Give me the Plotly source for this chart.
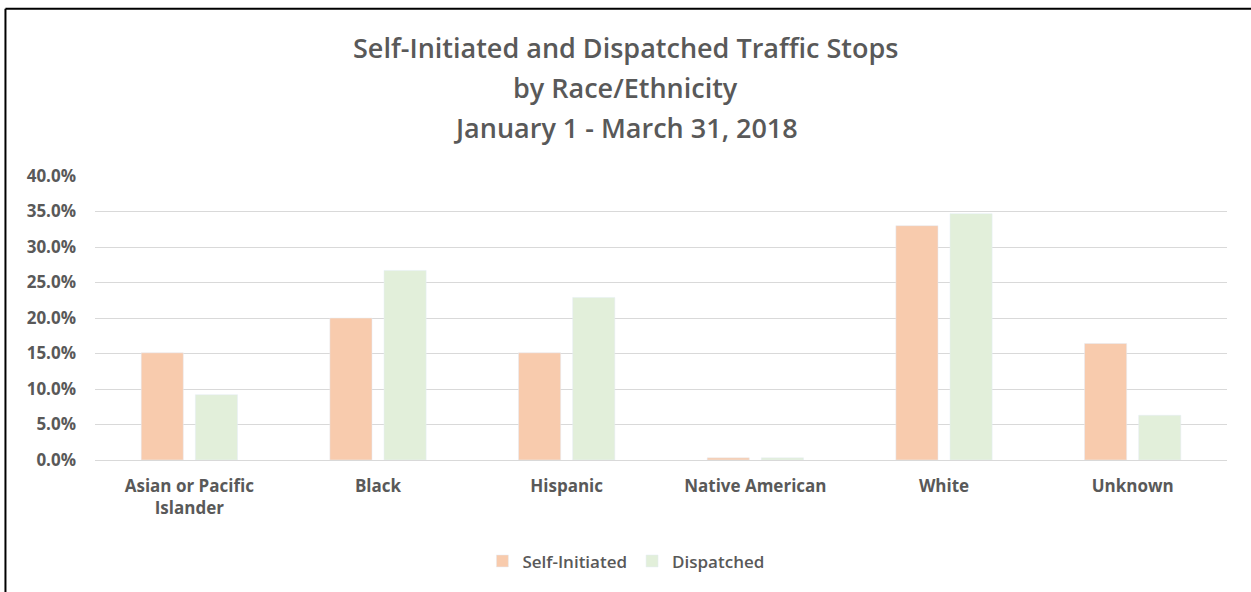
import plotly.graph_objects as go

# values (percent of stops)
categories = ["Asian or Pacific<br>Islander", "Black", "Hispanic",
              "Native American", "White", "Unknown"]
self_initiated = [15.1, 20.0, 15.1, 0.3, 33.0, 16.4]
dispatched = [9.2, 26.7, 22.9, 0.3, 34.7, 6.3]
y_ticks = [0, 5, 10, 15, 20, 25, 30, 35, 40]
title_lines = ["Self-Initiated and Dispatched Traffic Stops",
               "by Race/Ethnicity",
               "January 1 - March 31, 2018"]

text_grey = "#595959"
font_family = "Open Sans"

fig = go.Figure()
fig.add_trace(go.Bar(x=categories, y=self_initiated, name="Self-Initiated",
                     marker_color="#F8CBAD"))
fig.add_trace(go.Bar(x=categories, y=dispatched, name="Dispatched",
                     marker_color="#E2EFDA"))

# title as three separate lines (Excel style spacing)
title_y = [1.451, 1.311, 1.171]
for line, ty in zip(title_lines, title_y):
    fig.add_annotation(text=line, x=0.469, y=ty, xref="paper", yref="paper",
                       xanchor="center", yanchor="middle", showarrow=False,
                       font=dict(family=font_family, size=27, weight=600,
                                 color=text_grey))

# frame lines on the top and left of the chart area
fig.add_shape(type="line", xref="paper", yref="paper",
              x0=-0.0791, x1=1.03, y0=1.589, y1=1.589,
              line=dict(color="black", width=2))
fig.add_shape(type="line", xref="paper", yref="paper",
              x0=-0.0791, x1=-0.0791, y0=1.589, y1=-0.6,
              line=dict(color="black", width=2))

fig.update_layout(
    width=1251, height=592,
    margin=dict(l=95, r=24, t=176, b=130),
    paper_bgcolor="white", plot_bgcolor="white",
    barmode="group", bargap=0.426, bargroupgap=0.222,
    font=dict(family=font_family, color=text_grey),
    legend=dict(orientation="h", x=0.469, xanchor="center",
                y=-0.357, yanchor="middle",
                font=dict(size=17, weight=600, color=text_grey),
                itemwidth=30, traceorder="normal"),
    showlegend=True,
)
fig.update_xaxes(showgrid=False, showline=False, ticks="",
                 ticklabelstandoff=14,
                 tickfont=dict(size=17, color=text_grey, weight="bold"))
fig.update_yaxes(range=[0, 40], tickvals=y_ticks,
                 ticktext=[f"{v:.1f}%" for v in y_ticks],
                 showgrid=True, gridcolor="#D9D9D9", gridwidth=1,
                 zeroline=True, zerolinecolor="#D9D9D9", zerolinewidth=1,
                 ticklabelstandoff=18,
                 tickfont=dict(size=17, color=text_grey, weight="bold"))

# remove the default page margin so the chart sits at the window's corner
fig.write_html("out.html", config={"displayModeBar": False},
               post_script="document.body.style.margin='0';")
